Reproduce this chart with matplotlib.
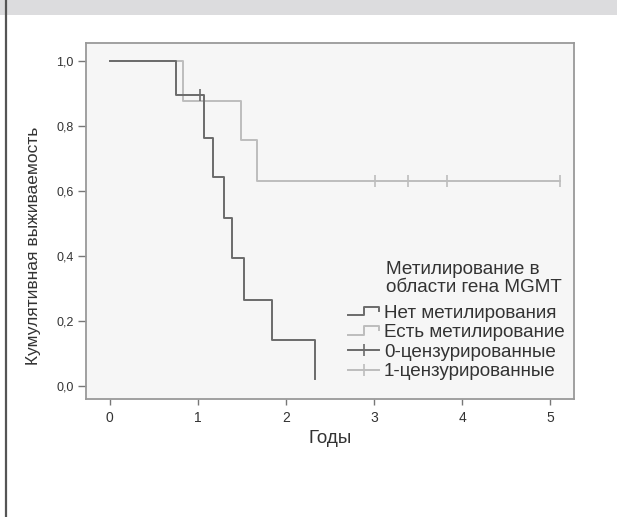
import matplotlib
matplotlib.use("Agg")
import matplotlib.pyplot as plt
from matplotlib.lines import Line2D
from matplotlib.legend_handler import HandlerBase
from matplotlib.patches import Rectangle
from matplotlib.ticker import FuncFormatter

plt.rcParams['font.family'] = ['Liberation Sans', 'DejaVu Sans']

# Kaplan-Meier curves
time_none = [0.0, 0.75, 1.07, 1.17, 1.30, 1.39, 1.52, 1.84, 2.33]
surv_none = [1.0, 0.894, 0.763, 0.641, 0.517, 0.392, 0.264, 0.140, 0.02]
cens_none_t = [1.02]
cens_none_s = [0.894]

time_meth = [0.0, 0.83, 1.485, 1.67, 5.11]
surv_meth = [1.0, 0.877, 0.756, 0.631, 0.631]
cens_meth_t = [3.01, 3.38, 3.83, 5.11]
cens_meth_s = [0.631, 0.631, 0.631, 0.631]

labels = ['Нет метилирования', 'Есть метилирование',
          '0-цензурированные', '1-цензурированные']
legend_title = 'Метилирование в\nобласти гена MGMT'
x_ticks = [0, 1, 2, 3, 4, 5]
y_ticks = [0.0, 0.2, 0.4, 0.6, 0.8, 1.0]

dark = '#6b6b6b'
light = '#bdbdbd'
txt = '#333333'


class StepHandler(HandlerBase):
    # small step-shaped icon like in SPSS legends
    def create_artists(self, legend, orig_handle, xdescent, ydescent,
                       width, height, fontsize, trans):
        x0 = -xdescent
        x1 = x0 + width
        xm = x0 + width * 0.5
        ylo = -ydescent + height * 0.2
        yhi = -ydescent + height * 0.85
        ln = Line2D([x0, xm, xm, x1, x1], [ylo, ylo, yhi, yhi, yhi - height * 0.3],
                    color=orig_handle.get_color(), lw=orig_handle.get_linewidth())
        ln.set_transform(trans)
        return [ln]


fig = plt.figure(figsize=(6.17, 5.17), dpi=100)
fig.patch.set_facecolor('white')

# header band and left border
fig.patches.append(Rectangle((0, 1 - 15 / 517), 1, 15 / 517, transform=fig.transFigure,
                             facecolor='#dcdcde', edgecolor='none', zorder=0))
fig.lines.append(Line2D([5.5 / 617, 5.5 / 617], [0, 1], transform=fig.transFigure,
                       color='#555555', lw=1.6))

ax = fig.add_axes([86 / 617, 118 / 517, 488 / 617, 356 / 517])
ax.set_facecolor('#f6f6f6')

l_meth, = ax.plot(time_meth, surv_meth, drawstyle='steps-post', color=light, lw=1.4)
l_none, = ax.plot(time_none, surv_none, drawstyle='steps-post', color=dark, lw=1.4)
ax.plot(cens_meth_t, cens_meth_s, ls='none', marker='|', ms=8, mew=1.2, color=light)
ax.plot(cens_none_t, cens_none_s, ls='none', marker='|', ms=8, mew=1.2, color=dark)

ax.set_xlim(-0.27, 5.27)
ax.set_ylim(-0.041, 1.054)
ax.set_xticks(x_ticks)
ax.set_yticks(y_ticks)
ax.yaxis.set_major_formatter(FuncFormatter(lambda v, p: f'{v:.1f}'.replace('.', ',')))
ax.tick_params(axis='x', length=4, width=1, color='#777777', labelsize=10, pad=5,
               labelcolor=txt)
ax.tick_params(axis='y', length=6, width=1, color='#777777', labelsize=9, pad=3,
               labelcolor=txt)
for sp in ax.spines.values():
    sp.set_color('#999999')
    sp.set_linewidth(1.3)

ax.set_xlabel('Годы', fontsize=13.5, color=txt, labelpad=3)
ax.set_ylabel('Кумулятивная выживаемость', fontsize=12.5, color=txt)
ax.yaxis.set_label_coords(-0.093, 0.43)

# legend title as separate text so it lines up with the labels
ax.text(0.615, 0.387, legend_title, transform=ax.transAxes, fontsize=13.6,
        color=txt, ha='left', va='top', linespacing=1.05)

h_cens0 = Line2D([], [], color=dark, lw=1.4, marker='|', ms=8, mew=1.2)
h_cens1 = Line2D([], [], color=light, lw=1.4, marker='|', ms=8, mew=1.2)
leg = ax.legend([l_none, l_meth, h_cens0, h_cens1], labels,
                handler_map={l_none: StepHandler(), l_meth: StepHandler()},
                loc='upper left', bbox_to_anchor=(0.537, 0.265), frameon=False,
                fontsize=13.6, numpoints=1, borderpad=0,
                handlelength=1.64, handletextpad=0.26, labelspacing=0.12,
                borderaxespad=0.0)
for t in leg.get_texts():
    t.set_color(txt)

fig.savefig('out.png', dpi=100)
